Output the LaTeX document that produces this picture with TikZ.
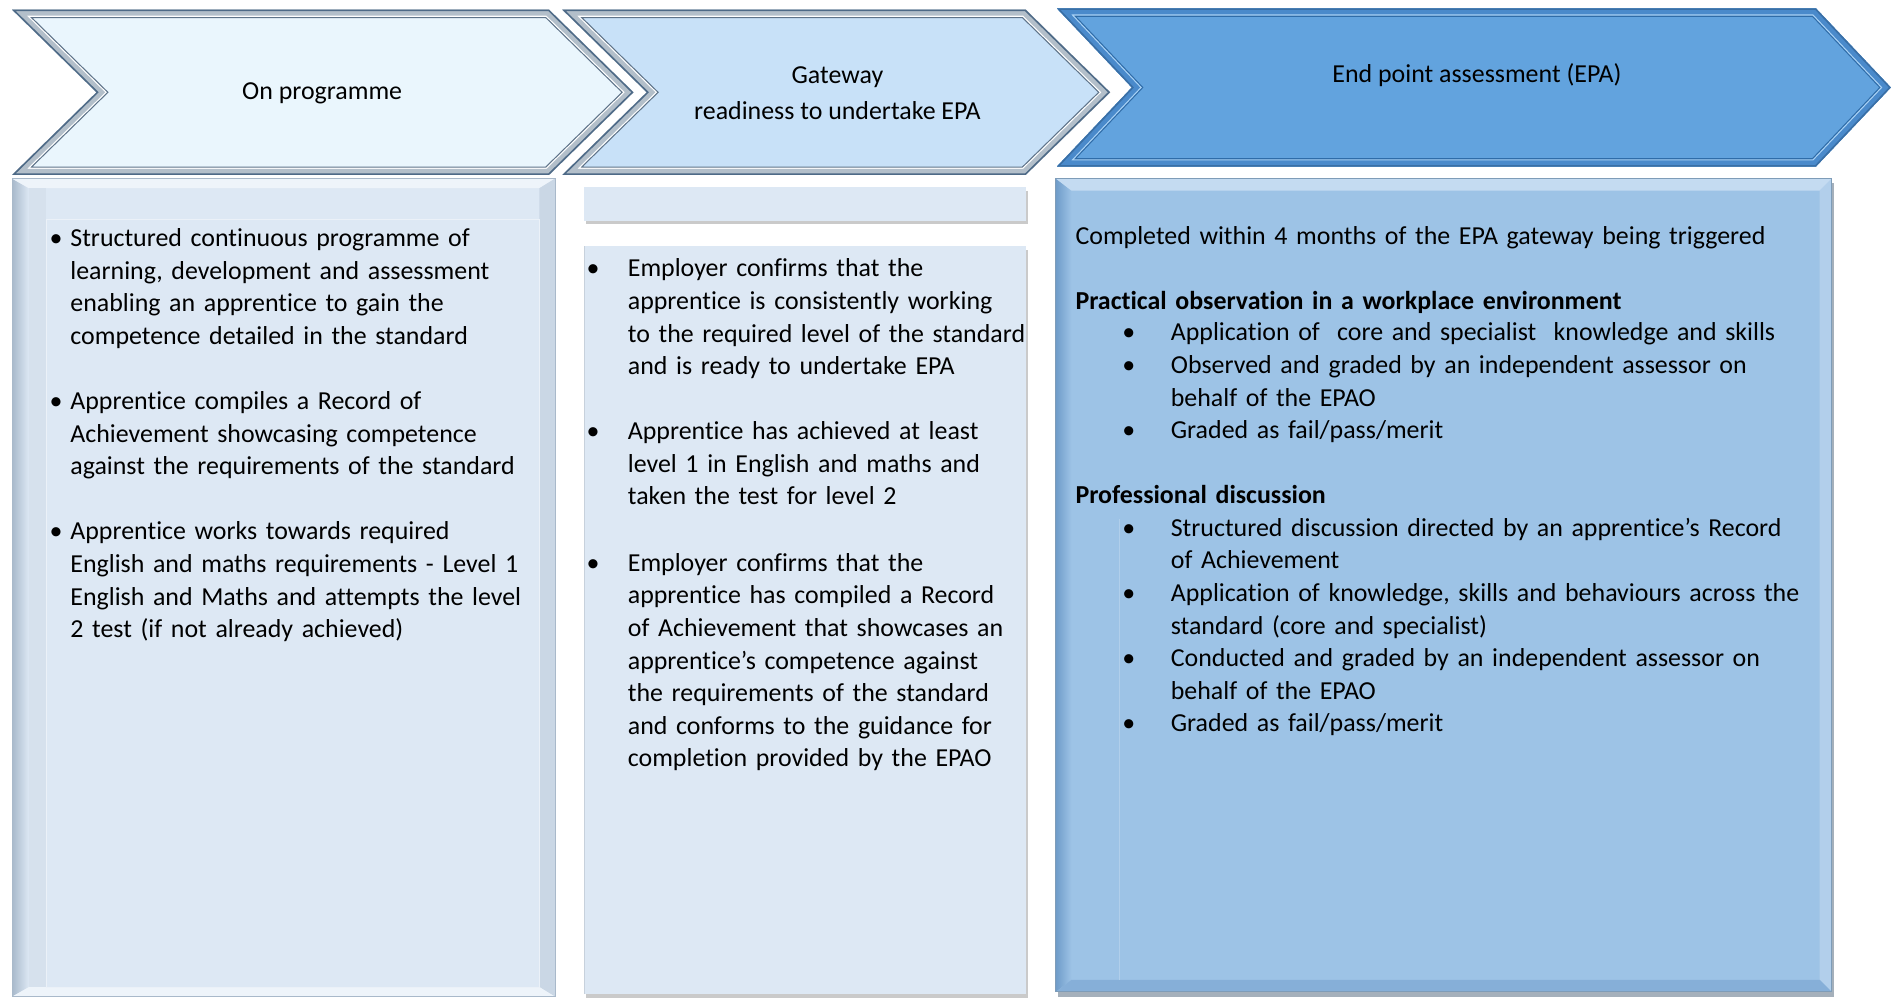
\documentclass[tikz,border=0pt]{standalone}
\usepackage{fontspec}
\setmainfont{Carlito}[Ligatures=NoCommon]
\definecolor{chA}{HTML}{EAF6FD}
\definecolor{chB}{HTML}{C8E1F8}
\definecolor{chC}{HTML}{62A3DE}
\definecolor{gDark}{HTML}{5E7389}
\definecolor{gBand}{HTML}{B3BFCA}
\definecolor{gOut}{HTML}{4E6A87}
\definecolor{bDark}{HTML}{2F6CA8}
\definecolor{bHi}{HTML}{A9D2F5}
\definecolor{bBand}{HTML}{4A8ACB}
\definecolor{bOut}{HTML}{3A6FA5}
\definecolor{boxL}{HTML}{DDE8F4}
\definecolor{boxLtop}{HTML}{EEF4FA}
\definecolor{boxLside}{HTML}{A8B9CB}
\definecolor{boxLr}{HTML}{CAD7E5}
\definecolor{boxLedge}{HTML}{A9B9CA}
\definecolor{boxE}{HTML}{9DC3E6}
\definecolor{boxEtop}{HTML}{C4DBF1}
\definecolor{boxEside}{HTML}{6F9CC9}
\definecolor{boxEr}{HTML}{B2CFEB}
\definecolor{boxEb}{HTML}{86AFD8}
\definecolor{shad}{HTML}{A8A8A8}
\newcommand{\bodyfont}{\fontsize{12.22pt}{15.37pt}\selectfont}
\newcommand{\chevp}[6]{(#1,#4) -- (#2,#4) -- (#3,#6) -- (#2,#5) -- (#1,#5) -- ({#1+#3-#2},#6) -- cycle}
\newcommand{\bulA}{\llap{•\hspace{0.13cm}}}
\newcommand{\bulB}{\llap{•\hspace{0.47cm}}}
\newcommand{\bulC}{\llap{•\hspace{0.59cm}}}
\tikzset{
  hdr/.style={anchor=base, inner sep=0pt, font=\bodyfont, text=black},
  itemA/.style={anchor=base west, inner sep=0pt, font=\bodyfont, text width=8.6cm, align=left, text=black},
  itemB/.style={anchor=base west, inner sep=0pt, font=\bodyfont, text width=7cm, align=left, text=black},
  itemC/.style={anchor=base west, inner sep=0pt, font=\bodyfont, text width=12cm, align=left, text=black},
}
\begin{document}
\begin{tikzpicture}[x=0.02cm,y=-0.02cm]
\useasboundingbox (0,0) rectangle (1568,827);
\fill[white] (0,0) rectangle (1568,827);

% ---------- chevrons ----------
\begin{scope}
  \clip \chevp{10}{455}{525}{8}{145}{76.5};
  \fill[chA] \chevp{10}{455}{525}{8}{145}{76.5};
  \draw[gDark, line width=0.28cm, line join=miter] \chevp{10}{455}{525}{8}{145}{76.5};
  \draw[white, line width=0.24cm, line join=miter] \chevp{10}{455}{525}{8}{145}{76.5};
  \draw[gBand, line width=0.2cm, line join=miter] \chevp{10}{455}{525}{8}{145}{76.5};
  \draw[gOut, line width=0.05cm, line join=miter] \chevp{10}{455}{525}{8}{145}{76.5};
\end{scope}
\begin{scope}
  \clip \chevp{466}{850}{920}{8}{145}{76.5};
  \fill[chB] \chevp{466}{850}{920}{8}{145}{76.5};
  \draw[gDark, line width=0.28cm, line join=miter] \chevp{466}{850}{920}{8}{145}{76.5};
  \draw[white, line width=0.24cm, line join=miter] \chevp{466}{850}{920}{8}{145}{76.5};
  \draw[gBand, line width=0.2cm, line join=miter] \chevp{466}{850}{920}{8}{145}{76.5};
  \draw[gOut, line width=0.05cm, line join=miter] \chevp{466}{850}{920}{8}{145}{76.5};
\end{scope}
\begin{scope}
  \clip \chevp{876}{1505}{1567}{7}{138}{72.5};
  \fill[chC] \chevp{876}{1505}{1567}{7}{138}{72.5};
  \draw[bDark, line width=0.28cm, line join=miter] \chevp{876}{1505}{1567}{7}{138}{72.5};
  \draw[bHi, line width=0.24cm, line join=miter] \chevp{876}{1505}{1567}{7}{138}{72.5};
  \draw[bBand, line width=0.2cm, line join=miter] \chevp{876}{1505}{1567}{7}{138}{72.5};
  \draw[bOut, line width=0.05cm, line join=miter] \chevp{876}{1505}{1567}{7}{138}{72.5};
\end{scope}

\node[hdr] (h1) at (267,82.5) {On programme};
\node[hdr] (h2a) at (694,69.5) {Gateway};
\node[hdr] (h2b) at (694,99) {readiness to undertake EPA};
\node[hdr] (h3) at (1224,68) {End point assessment (EPA)};

% ---------- column 1 box ----------
\fill[boxL] (10,148) rectangle (460,826);
\shade[left color=boxLside, right color=boxL] (10,148) -- (24,156) -- (24,818) -- (10,826) -- cycle;
\fill[boxLtop] (10,148) -- (460,148) -- (447,156) -- (24,156) -- cycle;
\fill[boxLr] (460,148) -- (460,826) -- (447,818) -- (447,156) -- cycle;
\fill[boxLtop] (10,826) -- (460,826) -- (447,818) -- (24,818) -- cycle;
\fill[boxL!97!black] (24,156) rectangle (38,818);
\draw[boxL!60!white, line width=0.3pt] (38,182) rectangle (447,818);
\draw[boxLedge, line width=0.5pt] (10,148) rectangle (460,826);

% ---------- column 2 boxes ----------
\fill[shad, opacity=0.6] (486,158) rectangle (852,186);
\fill[boxL] (484,155) rectangle (850,183);
\fill[shad, opacity=0.6] (486,207) rectangle (852,827);
\fill[boxL] (484,204) rectangle (850,824);
\draw[boxL!90!black, line width=0.4pt] (484,204) -- (484,824);

% ---------- column 3 box ----------
\fill[shad!70!boxE] (877,152) rectangle (1520,826);
\fill[boxE] (875,148) rectangle (1518,822);
\shade[left color=boxEside, right color=boxE] (875,148) -- (888,158) -- (888,812) -- (875,822) -- cycle;
\fill[boxEtop] (875,148) -- (1518,148) -- (1508,158) -- (888,158) -- cycle;
\fill[boxEr] (1518,148) -- (1518,822) -- (1508,812) -- (1508,158) -- cycle;
\fill[boxEb] (875,822) -- (1518,822) -- (1508,812) -- (888,812) -- cycle;
\draw[boxE!80!white, line width=0.3pt] (928,812) -- (928,430);
\draw[boxE!80!black, line width=0.4pt] (875,148) rectangle (1518,822);

% ---------- column 1 text ----------
\node[itemA] (a1) at (58,204.5) {\bulA Structured continuous programme of\\learning, development and assessment\\enabling an apprentice to gain the\\competence detailed in the standard};
\node[itemA] (a2) at (58,339.5) {\bulA Apprentice compiles a Record of\\Achievement showcasing competence\\against the requirements of the standard};
\node[itemA] (a3) at (58,447.5) {\bulA Apprentice works towards required\\English and maths requirements - Level 1\\English and Maths and attempts the level\\2 test (if not already achieved)};

% ---------- column 2 text ----------
\node[itemB] (b1) at (520,229.5) {\bulB Employer confirms that the\\apprentice is consistently working\\to the required level of the standard\\and is ready to undertake EPA};
\node[itemB] (b2) at (520,364.5) {\bulB Apprentice has achieved at least\\level 1 in English and maths and\\taken the test for level 2};
\node[itemB] (b3) at (520,473.5) {\bulB Employer confirms that the\\apprentice has compiled a Record\\of Achievement that showcases an\\apprentice’s competence against\\the requirements of the standard\\and conforms to the guidance for\\completion provided by the EPAO};

% ---------- column 3 text ----------
\node[itemC] (c0) at (891,202.5) {Completed within 4 months of the EPA gateway being triggered};
\node[itemC] (c1) at (891,256.5) {\bfseries Practical observation in a workplace environment};
\node[itemC] (c2) at (970,282.5) {\bulC Application of\ \ core and specialist\ \ knowledge and skills};
\node[itemC] (c3) at (970,309.5) {\bulC Observed and graded by an independent assessor on\\behalf of the EPAO};
\node[itemC] (c4) at (970,363.5) {\bulC Graded as fail/pass/merit};
\node[itemC] (c5) at (891,417.5) {\bfseries Professional discussion};
\node[itemC] (c6) at (970,444.5) {\bulC Structured discussion directed by an apprentice’s Record\\of Achievement};
\node[itemC] (c7) at (970,498.5) {\bulC Application of knowledge, skills and behaviours across the\\standard (core and specialist)};
\node[itemC] (c8) at (970,552.5) {\bulC Conducted and graded by an independent assessor on\\behalf of the EPAO};
\node[itemC] (c9) at (970,606.5) {\bulC Graded as fail/pass/merit};
\end{tikzpicture}
\end{document}
